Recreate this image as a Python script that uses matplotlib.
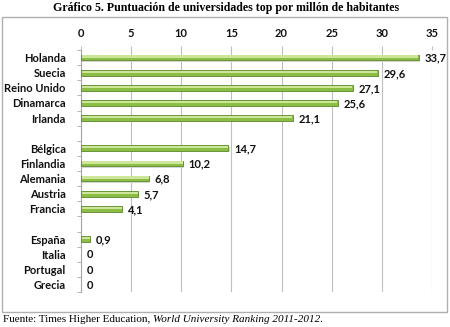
import numpy as np
import matplotlib.pyplot as plt
from matplotlib.patches import Rectangle

# Puntuación de universidades top por millón de habitantes (grupos separados por un hueco)
grupo1 = ["Holanda", "Suecia", "Reino Unido", "Dinamarca", "Irlanda"]
valores1 = [33.7, 29.6, 27.1, 25.6, 21.1]
grupo2 = ["Bélgica", "Finlandia", "Alemania", "Austria", "Francia"]
valores2 = [14.7, 10.2, 6.8, 5.7, 4.1]
grupo3 = ["España", "Italia", "Portugal", "Grecia"]
valores3 = [0.9, 0, 0, 0]
xticks = [0, 5, 10, 15, 20, 25, 30, 35]

paises = grupo1 + [""] + grupo2 + [""] + grupo3
valores = valores1 + [np.nan] + valores2 + [np.nan] + valores3
pos = np.arange(len(paises))

W, H = 450, 327
fig = plt.figure(figsize=(W / 100, H / 100), dpi=100)

# marco gris del gráfico
fig.patches.append(Rectangle((2 / W, 1 - 312 / H), 445 / W, 295 / H,
                             transform=fig.transFigure, fill=False,
                             edgecolor="#B0B0B0", lw=1.0))

ax = fig.add_axes([81 / W, 1 - 292 / H, 351 / W, 242 / H])

lab_font = dict(family="Lato", weight="bold", size=8)

h = 0.38
for y, v in zip(pos, valores):
    if np.isnan(v):
        continue
    if v > 0:
        # sombra, cuerpo y brillo para el efecto de relieve
        ax.barh(y + 0.08, v, height=h, left=0.12, color="#D5D5D5", zorder=2)
        ax.barh(y, v, height=h, color="#8CBE46", edgecolor="#5E8C2C",
                lw=0.6, zorder=3)
        ax.barh(y - h * 0.17, v - 0.1, height=h * 0.38, left=0.05,
                color="#CDE79A", zorder=4)
    txt = "0" if v == 0 else f"{v:.1f}".replace(".", ",")
    ax.text(v + 0.55 if v > 0 else 0.55, y + 0.05, txt, va="center",
            ha="left", color="#111111", **lab_font)

ax.set_xlim(0, 35)
ax.set_ylim(len(paises) - 0.5, -0.5)
ax.set_xticks(xticks)
ax.set_xticklabels([str(t) for t in xticks], **lab_font)
ax.xaxis.tick_top()
ax.tick_params(axis="x", length=3, color="#BFBFBF", pad=5, labelcolor="#111111")
ax.grid(axis="x", color="#BFBFBF", lw=0.8, zorder=0)

ax.set_yticks(pos)
ax.set_yticklabels(paises, **lab_font)
ax.set_yticks(np.arange(len(paises) + 1) - 0.5, minor=True)
ax.tick_params(axis="y", which="major", length=0, pad=11, labelcolor="#111111")
ax.tick_params(axis="y", which="minor", length=3, color="#A6A6A6")

for s in ["top", "right", "bottom"]:
    ax.spines[s].set_visible(False)
ax.spines["left"].set_color("#A6A6A6")
ax.set_axisbelow(True)

fig.text(226 / W, 1 - 8 / H,
         "Gráfico 5. Puntuación de universidades top por millón de habitantes",
         ha="center", va="center", family="Liberation Serif", weight="bold",
         size=8.6)

# fuente: parte normal y título del ranking en cursiva
pie = dict(va="center", ha="left", family="Liberation Serif", size=8)
t1 = fig.text(3 / W, 1 - 319 / H, "Fuente: Times Higher Education, ", **pie)
fig.canvas.draw()
x1 = t1.get_window_extent().x1
t2 = fig.text(x1 / W, 1 - 319 / H, "World University Ranking 2011-2012",
              style="italic", **pie)
fig.canvas.draw()
x2 = t2.get_window_extent().x1
fig.text((x2 - 1) / W, 1 - 319 / H, ".", **pie)

fig.savefig("out.png", dpi=100)
